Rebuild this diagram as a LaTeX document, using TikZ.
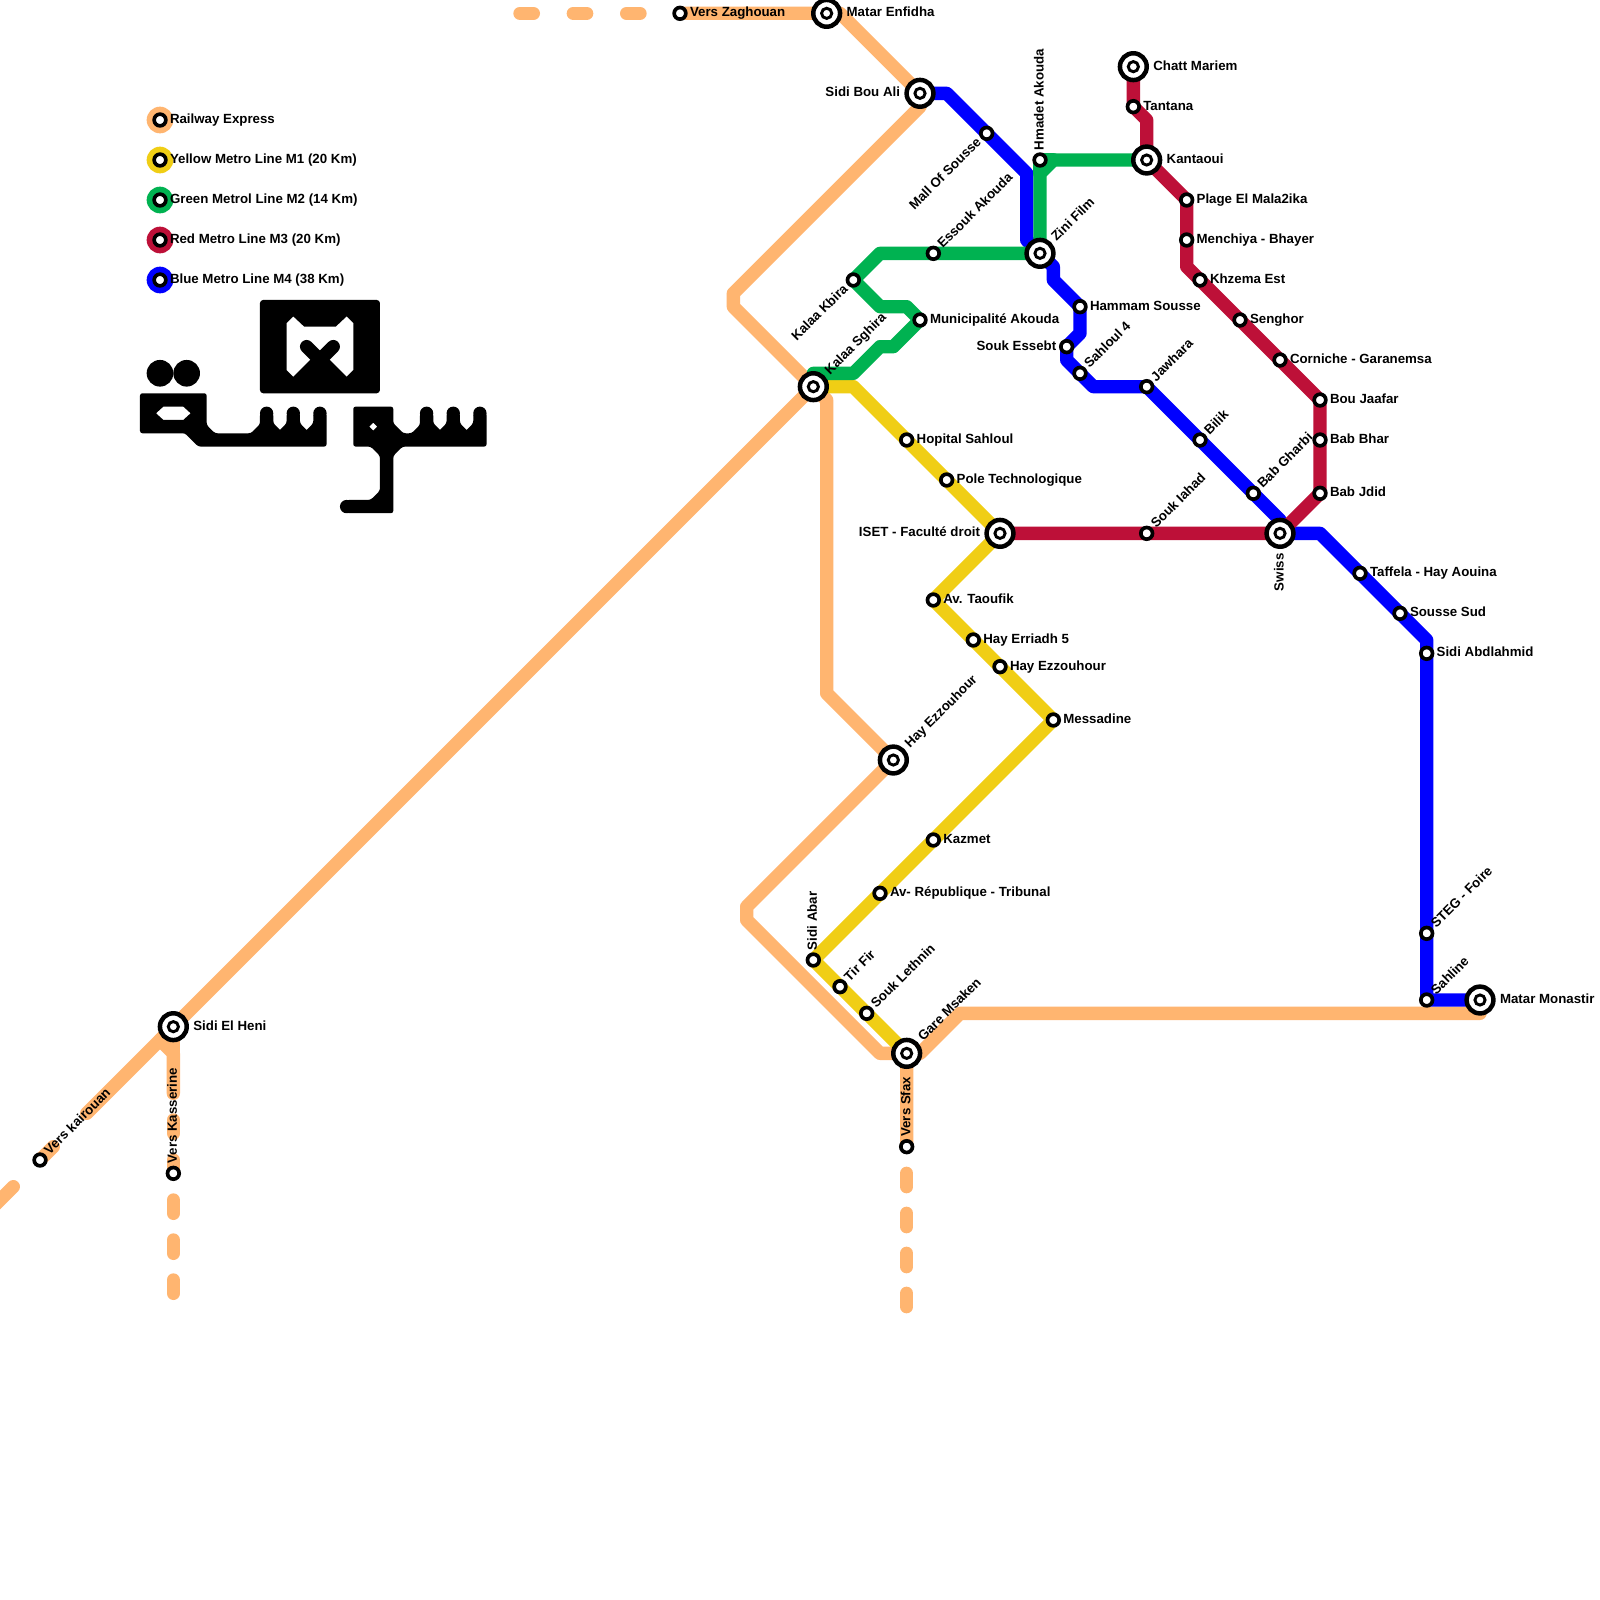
\documentclass[tikz,border=0pt]{standalone}
\usepackage{fontspec}
\setmainfont{Liberation Sans}
\definecolor{railc}{HTML}{FFB570}
\definecolor{yelc}{HTML}{F0CE15}
\definecolor{grnc}{HTML}{00B251}
\definecolor{redc}{HTML}{BD1038}
\definecolor{bluc}{HTML}{0000FF}
\tikzset{
  metro/.style={line width=.3333cm,line cap=round,line join=round},
  rail/.style={metro,draw=railc},
  yel/.style={metro,draw=yelc},
  grn/.style={metro,draw=grnc},
  redl/.style={metro,draw=redc},
  blu/.style={metro,draw=bluc},
  stn/.style={circle,draw=black,fill=white,line width=.0917cm,minimum size=.2917cm,inner sep=0pt,outer sep=0pt},
  hubo/.style={circle,draw=black,fill=white,line width=.1125cm,minimum size=.67cm,inner sep=0pt,outer sep=0pt},
  hubi/.style={circle,draw=black,fill=white,line width=.0725cm,minimum size=.255cm,inner sep=0pt,outer sep=0pt},
  legdot/.style={circle,inner sep=0pt,outer sep=0pt,minimum size=.6667cm},
  tx/.style={font=\bfseries\fontsize{9.45}{9.45}\selectfont,inner sep=0pt,outer sep=0pt,text=black},
  labr/.style={tx,anchor=base west,rotate=#1,xshift=.25cm,yshift=-.09cm},
  labr/.default=0,
  labl/.style={tx,anchor=base east,rotate=#1,xshift=-.26cm,yshift=-.09cm},
  labl/.default=0,
  bigr/.style={tx,anchor=base west,rotate=#1,xshift=.5cm,yshift=-.09cm},
  bigr/.default=0,
  bigl/.style={tx,anchor=base east,rotate=#1,xshift=-.5cm,yshift=-.09cm},
  bigl/.default=0,
}
\begin{document}
\begin{tikzpicture}[x=.33333cm,y=-.33333cm]
\useasboundingbox (0,0) rectangle (120,120);
\clip (0,0) rectangle (120,120);
\fill[white] (0,0) rectangle (120,120);
\foreach \n/\a/\b in {zag/51/1,enf/62/1,sba/69/7,ksg/61/29,zini/78/19,chatt/85/5,kant/86/12,iset/75/40,swiss/96/40,ezzb/67/57,gare/68/79,mona/111/75,heni/13/77,
 mall/74/10,hmad/78/12,essk/70/19,kbira/64/21,muni/69/24,hamm/81/23,ssb/80/26,sahf/81/28,jaw/86/29,tant/85/8,plage/89/15,men/89/18,khz/90/21,seng/93/24,corn/96/27,bouj/99/30,bhar/99/33,jdid/99/37,gharbi/94/37,bilik/90/33,iahad/86/40,hop/68/33,pole/71/36,taouf/70/45,err/73/48,ezz/75/50,mess/79/54,kaz/70/63,rep/66/67,abar/61/72,tir/63/74,leth/65/76,sfax/68/86,sahl/107/75,steg/107/70,abdl/107/49,ssud/105/46,taff/102/43,kair/3/87,kass/13/88,
 lega/12/9,legb/12/12,legc/12/15,legd/12/18,lege/12/21}
 {\coordinate (\n) at (\a,\b);}
% railway
\draw[rail] (39,1) -- (40,1);
\draw[rail] (43,1) -- (44,1);
\draw[rail] (47,1) -- (48,1);
\draw[rail] (zag) -- (enf) -- (63,1) -- (sba) -- (69,8) -- (55,22) -- (55,23) -- (ksg) -- (heni) -- (6.5,83.5);
\draw[rail] (4,86) -- (kair);
\draw[rail] (1,89) -- (-1,91);
\draw[rail] (heni) -- (12,78) -- (13,79) -- (13,82);
\draw[rail] (heni) -- (13,79);
\draw[rail] (13,84) -- (13,85);
\draw[rail] (13,87) -- (kass);
\draw[rail] (13,90) -- (13,91);
\draw[rail] (13,93) -- (13,94);
\draw[rail] (13,96) -- (13,97);
\draw[rail] (ksg) -- (62,30) -- (62,52) -- (ezzb) -- (56,68) -- (56,69) -- (66,79) -- (gare) -- (sfax);
\draw[rail] (gare) -- (69,79) -- (72,76) -- (111,76) -- (mona);
\draw[rail] (68,88) -- (68,89);
\draw[rail] (68,91) -- (68,92);
\draw[rail] (68,94) -- (68,95);
\draw[rail] (68,97) -- (68,98);
% yellow
\draw[yel] (ksg) -- (64,29) -- (iset) -- (taouf) -- (mess) -- (abar) -- (gare);
% blue
\draw[blu] (sba) -- (71,7) -- (77,13) -- (77,18) -- (zini) -- (79,20) -- (79,21) -- (hamm) -- (81,25) -- (ssb) -- (80,27) -- (82,29) -- (jaw) -- (96,39) -- (swiss) -- (99,40) -- (107,48) -- (107,75) -- (mona);
% green
\draw[grn] (ksg) -- (61,28) -- (64,28) -- (66,26) -- (67,26) -- (muni) -- (68,23) -- (66,23) -- (kbira) -- (66,19) -- (zini) -- (78,13) -- (79,12) -- (kant);
\draw[grn] (hmad) -- (79,12);
\draw[grn] (hmad) -- (78,13);
% red
\draw[redl] (chatt) -- (tant) -- (86,9) -- (kant) -- (plage) -- (89,20) -- (bouj) -- (jdid) -- (swiss) -- (iset);
% logo
\begin{scope}[xshift=3cm,yshift=-2.25cm,x=.0083333cm,y=-.0083333cm]
 \fill[black,rounded corners=.08cm] (420,630) rectangle (780,910);
 \fill[white] (500,700) -- (520,680) -- (552,710) -- (648,710) -- (680,680) -- (700,700) -- (700,840) -- (680,860) -- (600,780) -- (520,860) -- (500,840) -- cycle;
 \draw[black,line width=.3333cm,line cap=round] (560,770) -- (600,810) -- (640,770);
 \fill[black] (120,850) circle[radius=40];
 \fill[black] (200,850) circle[radius=40];
 \fill[black,even odd rule,rounded corners=.06cm]
   (60,910) -- (260,910) -- (260,1005) -- (285,1030) -- (393,1030) -- (420,1003) -- (420,970) -- (460,970) -- (460,1000) [sharp corners] -- (480,1020) [rounded corners=.06cm] -- (500,1000) -- (500,970) -- (540,970) -- (540,1000) [sharp corners] -- (560,1020) [rounded corners=.06cm] -- (580,1000) -- (580,970) -- (620,970) -- (620,1070) -- (235,1070) -- (195,1030) -- (60,1030) -- cycle
   [sharp corners] (108,970) -- (130,950) -- (190,950) -- (212,970) -- (190,990) -- (130,990) -- cycle;
 \foreach \cx in {440,520,600} {\fill[black] (\cx,970) circle[radius=20];}
 \fill[black,even odd rule,rounded corners=.06cm]
   (700,950) -- (820,950) -- (820,1000) -- (850,1030) -- (875,1030) -- (900,1005) -- (900,970) -- (940,970) -- (940,1000) [sharp corners] -- (960,1020) [rounded corners=.06cm] -- (980,1000) -- (980,970) -- (1020,970) -- (1020,1000) [sharp corners] -- (1040,1020) [rounded corners=.06cm] -- (1060,1000) -- (1060,970) -- (1100,970) -- (1100,1070) -- (848,1070) -- (820,1098) -- (820,1270) -- (680,1270) -- (680,1230) -- (752,1230) -- (780,1202) -- (780,1098) -- (752,1070) -- (700,1070) -- cycle
   [sharp corners] (748,1010) -- (760,998) -- (772,1010) -- (760,1022) -- cycle;
 \foreach \cx in {920,1000,1080} {\fill[black] (\cx,970) circle[radius=20];}
 \fill[black] (680,1250) circle[radius=20];
\end{scope}
% legend dots
\node[legdot,fill=railc] (d-lega) at (lega) {};
\node[legdot,fill=yelc] (d-legb) at (legb) {};
\node[legdot,fill=grnc] (d-legc) at (legc) {};
\node[legdot,fill=redc] (d-legd) at (legd) {};
\node[legdot,fill=bluc] (d-lege) at (lege) {};
% stations
\foreach \n in {zag,mall,hmad,essk,kbira,muni,hamm,ssb,sahf,jaw,tant,plage,men,khz,seng,corn,bouj,bhar,jdid,gharbi,bilik,iahad,hop,pole,taouf,err,ezz,mess,kaz,rep,abar,tir,leth,sfax,sahl,steg,abdl,ssud,taff,kair,kass,lega,legb,legc,legd,lege}
 {\node[stn] (s-\n) at (\n) {};}
\foreach \n in {enf,sba,ksg,zini,chatt,kant,iset,swiss,ezzb,gare,mona,heni}
 {\node[hubo] (h-\n) at (\n) {}; \node[hubi] (s-\n) at (\n) {};}
% labels
\node[labr] (t-lega) at (lega) {Railway Express};
\node[labr] (t-legb) at (legb) {Yellow Metro Line M1 (20 Km)};
\node[labr] (t-legc) at (legc) {Green Metrol Line M2 (14 Km)};
\node[labr] (t-legd) at (legd) {Red Metro Line M3 (20 Km)};
\node[labr] (t-lege) at (lege) {Blue Metro Line M4 (38 Km)};
\node[labr] (t-zag) at (zag) {Vers Zaghouan};
\node[bigr] (t-enf) at (enf) {Matar Enfidha};
\node[bigl] (t-sba) at (sba) {Sidi Bou Ali};
\node[labl=45] (t-mall) at (mall) {Mall Of Sousse};
\node[labr=90] (t-hmad) at (hmad) {Hmadet Akouda};
\node[bigr] (t-chatt) at (chatt) {Chatt Mariem};
\node[labr] (t-tant) at (tant) {Tantana};
\node[bigr] (t-kant) at (kant) {Kantaoui};
\node[labr] (t-plage) at (plage) {Plage El Mala2ika};
\node[labr] (t-men) at (men) {Menchiya - Bhayer};
\node[labr] (t-khz) at (khz) {Khzema Est};
\node[labr] (t-seng) at (seng) {Senghor};
\node[labr] (t-corn) at (corn) {Corniche - Garanemsa};
\node[labr] (t-bouj) at (bouj) {Bou Jaafar};
\node[labr] (t-bhar) at (bhar) {Bab Bhar};
\node[labr] (t-jdid) at (jdid) {Bab Jdid};
\node[labr=45] (t-essk) at (essk) {Essouk Akouda};
\node[bigr=45] (t-zini) at (zini) {Zini Film};
\node[labl=45] (t-kbira) at (kbira) {Kalaa Kbira};
\node[bigr=45] (t-ksg) at (ksg) {Kalaa Sghira};
\node[labr] (t-muni) at (muni) {Municipalité Akouda};
\node[labr] (t-hamm) at (hamm) {Hammam Sousse};
\node[labl] (t-ssb) at (ssb) {Souk Essebt};
\node[labr=45] (t-sahf) at (sahf) {Sahloul 4};
\node[labr=45] (t-jaw) at (jaw) {Jawhara};
\node[labr=45] (t-bilik) at (bilik) {Bilik};
\node[labr=45] (t-gharbi) at (gharbi) {Bab Gharbi};
\node[labr=45] (t-iahad) at (iahad) {Souk Iahad};
\node[labr] (t-hop) at (hop) {Hopital Sahloul};
\node[labr] (t-pole) at (pole) {Pole Technologique};
\node[bigl] (t-iset) at (iset) {ISET - Faculté droit};
\node[bigl=90] (t-swiss) at (swiss) {Swiss};
\node[labr] (t-taouf) at (taouf) {Av. Taoufik};
\node[labr] (t-err) at (err) {Hay Erriadh 5};
\node[labr] (t-ezz) at (ezz) {Hay Ezzouhour};
\node[labr] (t-mess) at (mess) {Messadine};
\node[labr] (t-taff) at (taff) {Taffela - Hay Aouina};
\node[labr] (t-ssud) at (ssud) {Sousse Sud};
\node[labr] (t-abdl) at (abdl) {Sidi Abdlahmid};
\node[bigr=45] (t-ezzb) at (ezzb) {Hay Ezzouhour};
\node[labr] (t-kaz) at (kaz) {Kazmet};
\node[labr] (t-rep) at (rep) {Av- République - Tribunal};
\node[labr=90] (t-abar) at (abar) {Sidi Abar};
\node[labr=45] (t-tir) at (tir) {Tir Fir};
\node[labr=45] (t-leth) at (leth) {Souk Lethnin};
\node[bigr=45] (t-gare) at (gare) {Gare Msaken};
\node[labr=90] (t-sfax) at (sfax) {Vers Sfax};
\node[labr=45] (t-steg) at (steg) {STEG - Foire};
\node[labr=45] (t-sahl) at (sahl) {Sahline};
\node[bigr] (t-mona) at (mona) {Matar Monastir};
\node[bigr] (t-heni) at (heni) {Sidi El Heni};
\node[labr=45] (t-kair) at (kair) {Vers kairouan};
\node[labr=90] (t-kass) at (kass) {Vers Kasserine};
\end{tikzpicture}
\end{document}
